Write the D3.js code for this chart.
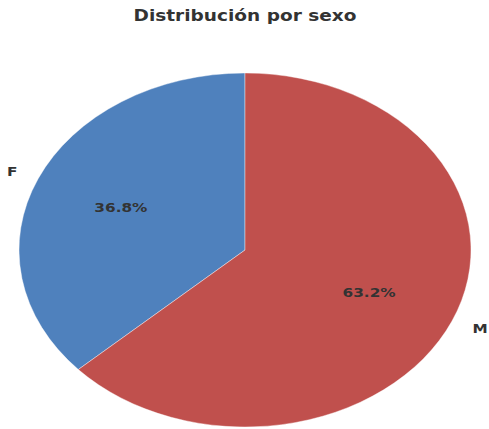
<!DOCTYPE html>
<html>
<head>
<meta charset="utf-8">
<script src="https://cdn.jsdelivr.net/npm/d3@7/dist/d3.min.js"></script>
<style>
  html, body { margin: 0; padding: 0; background: #ffffff; }
  svg { display: block; }
</style>
</head>
<body>
<svg id="chart" width="489" height="429"></svg>
<script>
const title = "Distribución por sexo";
const categories = ["F", "M"];
const values = [36.8, 63.2];
const colors = ["#4f81bd", "#c0504d"];

const svg = d3.select("#chart");
const cx = 245, cy = 250, ry = 177, rx = 226;
const sx = rx / ry;

const total = d3.sum(values);
const startA = -2 * Math.PI * values[0] / total;
const pie = d3.pie().sort(null).startAngle(startA).endAngle(startA + 2 * Math.PI);
const arcs = pie(values);

const g = svg.append("g").attr("transform", `translate(${cx},${cy}) scale(${sx},1)`);
const arc = d3.arc().innerRadius(0).outerRadius(ry);

g.selectAll("path.slice").data(arcs).enter().append("path")
  .attr("class", "slice")
  .attr("d", arc)
  .attr("fill", (d, i) => colors[i])
  .attr("stroke", "#ffffff")
  .attr("stroke-opacity", 0.6)
  .attr("stroke-width", 0.6);

const pctArc = d3.arc().innerRadius(ry * 0.6).outerRadius(ry * 0.6);
const lblArc = d3.arc().innerRadius(ry * 1.1).outerRadius(ry * 1.1);

g.selectAll("text.pct").data(arcs).enter().append("text")
  .attr("class", "pct")
  .attr("transform", d => { const c = pctArc.centroid(d); return `translate(${c[0]},${c[1]})`; })
  .attr("text-anchor", "middle")
  .attr("dominant-baseline", "central")
  .attr("font-family", "DejaVu Sans")
  .attr("font-weight", "bold")
  .attr("font-size", 12)
  .attr("fill", "#333333")
  .text(d => d3.format(".1f")(d.value / total * 100) + "%");

g.selectAll("text.lbl").data(arcs).enter().append("text")
  .attr("class", "lbl")
  .attr("transform", d => { const c = lblArc.centroid(d); return `translate(${c[0]},${c[1]})`; })
  .attr("text-anchor", d => lblArc.centroid(d)[0] < 0 ? "end" : "start")
  .attr("dominant-baseline", "central")
  .attr("font-family", "DejaVu Sans")
  .attr("font-weight", "bold")
  .attr("font-size", 12)
  .attr("fill", "#333333")
  .text((d, i) => categories[i]);

const t = svg.append("text")
  .attr("text-anchor", "middle")
  .attr("font-family", "DejaVu Sans")
  .attr("font-weight", "bold")
  .attr("font-size", 15)
  .attr("fill", "#333333")
  .text(title);
const tw = t.node().getComputedTextLength();
const tsx = 223 / tw;
t.attr("transform", `translate(${cx},21) scale(${tsx},1)`);
</script>
</body>
</html>
